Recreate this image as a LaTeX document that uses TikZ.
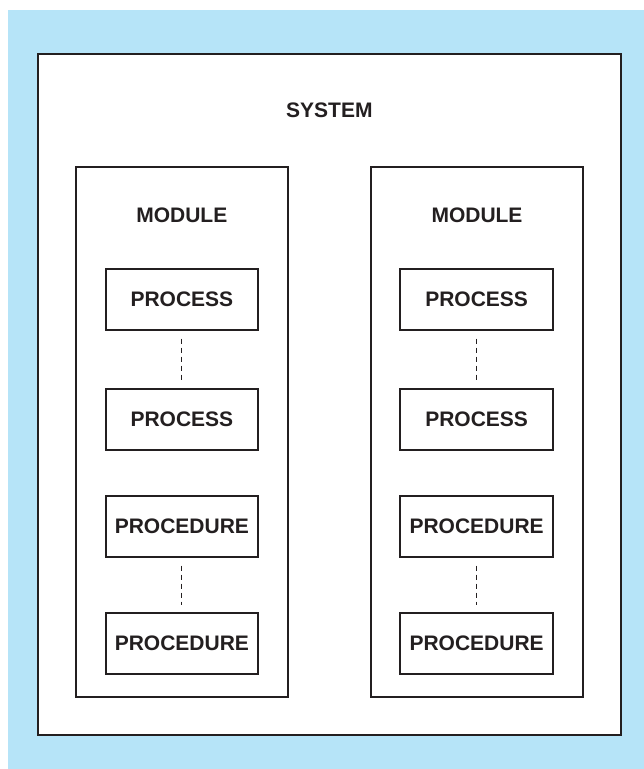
\documentclass[tikz,border=0pt]{standalone}
\usepackage{fontspec}
\setmainfont{Liberation Sans}
\usetikzlibrary{positioning}
\definecolor{bgblue}{RGB}{182,228,248}
\definecolor{ink}{RGB}{35,31,32}
\begin{document}
\begin{tikzpicture}[x=1pt,y=-1pt,
  lbl/.style={font=\fontsize{21}{25}\selectfont\bfseries, text=ink, inner sep=0pt},
  frame/.style={draw=ink, line width=2.6pt, fill=white, inner sep=0pt},
  modbox/.style={draw=ink, line width=2pt, fill=white, inner sep=0pt,
    minimum width=212pt, minimum height=530pt},
  unit/.style={draw=ink, line width=2pt, fill=white, inner sep=0pt,
    minimum width=152.5pt, minimum height=61pt,
    font=\fontsize{21}{25}\selectfont\bfseries, text=ink},
  link/.style={draw=ink, line width=1pt, dash pattern=on 5pt off 4pt,
    shorten <=8pt, shorten >=7pt}]
  \useasboundingbox (0,0) rectangle (644,769);
  \fill[white] (0,0) rectangle (644,769);
  \fill[bgblue] (8,10) rectangle (644,769);

  % system frame
  \node[frame, minimum width=583pt, minimum height=681pt] (sys) at (329.4,394.5) {};
  \node[lbl] (systxt) at (329.4,110) {SYSTEM};

  % two modules
  \node[modbox] (modA) at (181.8,432) {};
  \node[modbox] (modB) at (477,432) {};
  \node[lbl] (modAtxt) at (181.8,215) {MODULE};
  \node[lbl] (modBtxt) at (477,215) {MODULE};

  % left module contents
  \node[unit] (pA1) at (181.9,299) {PROCESS};
  \node[unit] (pA2) at (181.9,419.5) {PROCESS};
  \node[unit] (rA1) at (181.9,526) {PROCEDURE};
  \node[unit] (rA2) at (181.9,643.5) {PROCEDURE};

  % right module contents
  \node[unit] (pB1) at (476.6,299) {PROCESS};
  \node[unit] (pB2) at (476.6,419.5) {PROCESS};
  \node[unit] (rB1) at (476.6,526) {PROCEDURE};
  \node[unit] (rB2) at (476.6,643.5) {PROCEDURE};

  % dashed links
  \draw[link] (pA1.south) -- (pA2.north);
  \draw[link] (rA1.south) -- (rA2.north);
  \draw[link] (pB1.south) -- (pB2.north);
  \draw[link] (rB1.south) -- (rB2.north);
\end{tikzpicture}
\end{document}
